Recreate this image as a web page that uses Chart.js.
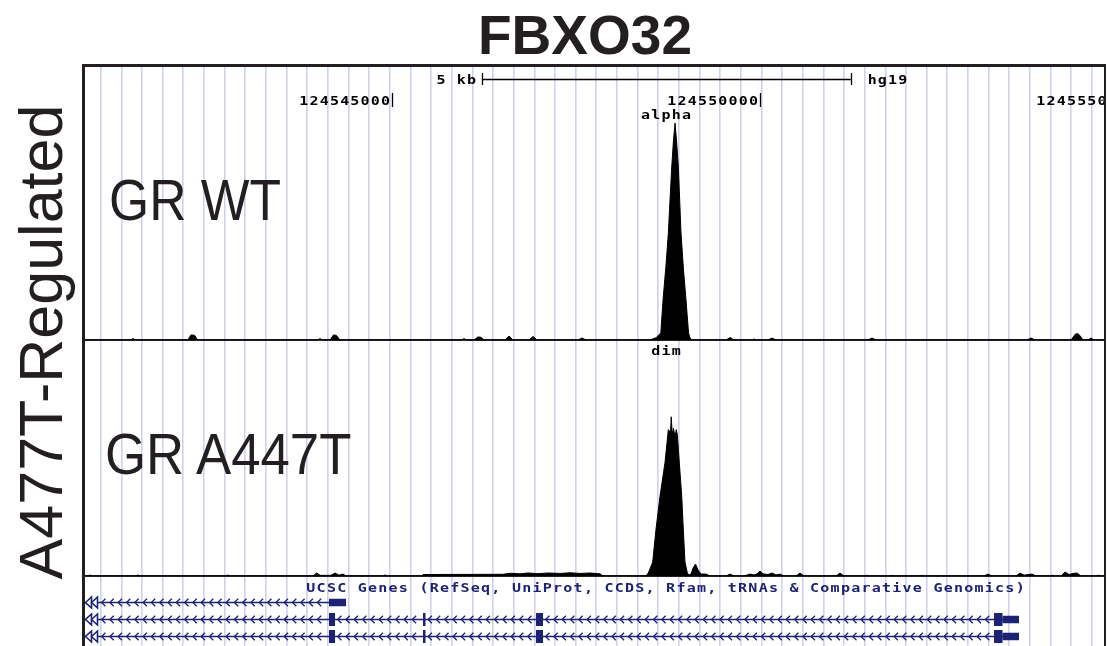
<!DOCTYPE html>
<html><head><meta charset="utf-8">
<script src="https://cdn.jsdelivr.net/npm/chart.js@4/dist/chart.umd.min.js"></script>
<style>
html,body{margin:0;padding:0;background:#fff;}
#wrap{position:relative;width:1108px;height:646px;overflow:hidden;background:#fff;}
#c{position:absolute;left:0;top:0;}
.lbl{position:absolute;font-family:"Liberation Sans",Arial,sans-serif;color:#231f20;white-space:nowrap;}
#title{left:385px;top:8px;width:400px;text-align:center;font-weight:bold;font-size:55px;line-height:55px;}
#ylab{left:-259px;top:312px;width:600px;height:60px;text-align:center;font-size:61px;line-height:60px;transform:rotate(-90deg);transform-origin:50% 50%;}
#wt{left:109px;top:171px;font-size:58px;line-height:58px;transform:scaleX(0.89);transform-origin:0 0;}
#mut{left:105px;top:425px;font-size:58px;line-height:58px;transform:scaleX(0.91);transform-origin:0 0;}
</style></head><body>
<div id="wrap">
<canvas id="c" width="1108" height="646"></canvas>
<div class="lbl" id="title">FBXO32</div>
<div class="lbl" id="ylab">A477T-Regulated</div>
<div class="lbl" id="wt">GR WT</div>
<div class="lbl" id="mut">GR A447T</div>
</div>
<script>
// ---- view / header ----
const viewStart = 124540839;
const viewEnd = 124554662;
const positionTicks = [124545000, 124550000, 124555000];
const scaleBarRange = [124546225, 124551225];
const scaleBarText = '5 kb';
const assemblyText = 'hg19';
const track1Name = 'alpha';
const track2Name = 'dim';
const geneTrackTitle = 'UCSC Genes (RefSeq, UniProt, CCDS, Rfam, tRNAs & Comparative Genomics)';
const guideStart = 124541052;
const guideStep = 280.1;

// ---- signal track 1 (GR WT, "alpha") ----
const alphaPos = [124540839,124541463,124541491,124541518,124542233,124542277,124542325,124542368,
 124544000,124544027,124544054,124544163,124544210,124544251,124544298,124545953,124545981,124546008,
 124546116,124546170,124546211,124546252,124546537,124546591,124546645,124546862,124546917,124546971,
 124547527,124547581,124547636,124548504,124548585,124548650,124548680,124548721,124548752,124548775,
 124548798,124548822,124548843,124548863,124548888,124548924,124548958,124548992,124549026,124549046,
 124549073,124549535,124549589,124549643,124549894,124549914,124549935,124550104,124550159,124550213,
 124551461,124551515,124551569,124553618,124553672,124553726,124554215,124554269,124554296,124554323,
 124554377,124554445,124554486,124554527,124554662];
const alphaVal = [0,0,0.7,0,0,2.3,2.1,0,
 0,0.7,0,0,2.3,2.0,0,0,0.7,0,
 0,1.4,1.2,0,0,1.8,0,0,1.6,0,
 0,0.9,0,0,1.0,3.2,18,33.8,48.2,63,
 77.9,90,97.7,90,77.9,48.2,31.5,18,3.2,0.9,
 0,0,1.1,0,0,0.5,0,0,0.9,0,
 0,0.9,0,0,0.9,0,0,2.5,2.9,2.5,
 0,0,0.9,0,0];

// ---- signal track 2 (GR A447T, "dim") ----
const dimPos = [124540839,124540880,124540907,124540934,124541531,124541558,124541586,124542752,124542779,124542806,
 124543932,124543982,124544027,124544176,124544231,124544285,124544339,124544380,124544882,124544909,124544936,
 124545411,124545424,124546510,124546605,124546740,124546849,124546984,124547120,124547283,124547418,124547554,
 124547690,124547825,124547866,124548449,124548481,124548540,124548585,124548639,124548707,124548752,124548782,
 124548791,124548806,124548822,124548843,124548860,124548874,124548901,124548934,124548955,124548978,124549010,
 124549033,124549060,124549087,124549121,124549155,124549195,124549263,124549318,124549535,124549589,124549643,
 124549779,124549860,124549914,124549955,124549996,124550037,124550104,124550159,124550213,124550267,124550321,
 124550484,124550538,124550593,124551027,124551081,124551135,124551434,124551447,124551461,124551773,124551786,
 124551800,124552179,124552193,124552206,124553034,124553089,124553143,124553468,124553523,124553577,124553685,
 124553740,124553943,124553957,124553970,124554079,124554133,124554187,124554242,124554296,124554350,124554567,
 124554581,124554594,124554662];
const dimVal = [0,0,0.5,0,0,0.5,0,0,0.5,0,
 0,1.4,0.3,0.3,1.4,0.4,0.9,0,0,0.5,0,
 0,0.7,0.8,1.3,1.0,1.4,1.1,1.4,1.2,1.5,1.2,
 1.4,1.0,0,0,1.4,6.5,21.9,37.2,53,68.4,67,
 74.4,66,69,65,68.4,66,53,37.2,21.9,6.5,1.4,
 0.5,0.9,3.7,5.6,2.8,0.9,0.9,0,0,0.9,0,
 0,0.9,0.5,1.0,2.3,1.0,0.7,1.4,0.5,0.9,0,
 0,1.4,0,0,1.4,0,0,0.5,0,0,0.5,
 0,0,0.5,0,0,0.9,0,0,1.4,0.4,0.9,
 0,0,0.5,0,0,1.9,0.7,1.2,1.4,0,0,
 0.5,0,0];

// ---- gene models (UCSC Genes) ----
const geneRowY = [1.5, 2.5, 3.5];
const txStart = [124508000, 124508000, 124508000];
const txEnd = [124544380, 124553509, 124553509];
const txCds = [
  [],
  [[124544149,124544231],[124545424,124545458],[124546957,124547052],[124553170,124553285]],
  [[124544149,124544231],[124545424,124545458],[124546957,124547052],[124553170,124553285]]
];
const txUtr = [
  [[124544149,124544380]],
  [[124553285,124553509]],
  [[124553285,124553509]]
];

const navy = 'rgb(28,34,116)';
const ink = '#000';

// wide bitmap-like label: font scaled horizontally, pitch in px
function mono(ctx, text, x, y, align, size, color, pitch, sx) {
  ctx.save();
  ctx.font = 'bold ' + size + 'px "DejaVu Sans Mono", monospace';
  ctx.fillStyle = color;
  ctx.textBaseline = 'alphabetic';
  ctx.textAlign = 'left';
  const cw = ctx.measureText('0').width;
  const spacing = pitch / sx - cw;
  if ('letterSpacing' in ctx) ctx.letterSpacing = spacing + 'px';
  const total = (text.length * pitch - spacing * sx);
  let left = x;
  if (align === 'right') left = x - total;
  else if (align === 'center') left = x - total / 2;
  ctx.translate(left, y);
  ctx.scale(sx, 1);
  ctx.fillText(text, 0, 0);
  ctx.restore();
}

const datasets = [];
datasets.push({
  label: track1Name, yAxisID: 'yT1',
  data: alphaPos.map((p, i) => ({x: p, y: alphaVal[i]})),
  borderColor: ink, backgroundColor: ink, borderWidth: 1, pointRadius: 0, fill: 'origin', tension: 0
});
datasets.push({
  label: track2Name, yAxisID: 'yT2',
  data: dimPos.map((p, i) => ({x: p, y: dimVal[i]})),
  borderColor: ink, backgroundColor: ink, borderWidth: 1, pointRadius: 0, fill: 'origin', tension: 0
});
geneRowY.forEach((row, r) => {
  datasets.push({yAxisID: 'yGene', data: [{x: txStart[r], y: row}, {x: txEnd[r], y: row}],
    borderColor: navy, borderWidth: 1.7, pointRadius: 0, fill: false});
  txCds[r].forEach(ex => datasets.push({yAxisID: 'yGene', data: [{x: ex[0], y: row}, {x: ex[1], y: row}],
    borderColor: navy, borderWidth: 13, borderCapStyle: 'butt', pointRadius: 0, fill: false}));
  txUtr[r].forEach(ex => datasets.push({yAxisID: 'yGene', data: [{x: ex[0], y: row}, {x: ex[1], y: row}],
    borderColor: navy, borderWidth: 7.5, borderCapStyle: 'butt', pointRadius: 0, fill: false}));
});

const ucsc = {
  id: 'ucsc',
  afterDatasetsDraw(chart) {
    const {ctx, chartArea: a, scales: s} = chart;
    const xs = s.x;
    ctx.save();
    ctx.beginPath(); ctx.rect(a.left, a.top, a.right - a.left, a.bottom - a.top); ctx.clip();
    const hTop = s.yHead.top;
    // scale bar
    const b1 = xs.getPixelForValue(scaleBarRange[0]), b2 = xs.getPixelForValue(scaleBarRange[1]);
    ctx.strokeStyle = ink; ctx.lineWidth = 1.3;
    ctx.beginPath();
    ctx.moveTo(b1, hTop + 12.5); ctx.lineTo(b2, hTop + 12.5);
    ctx.moveTo(Math.round(b1) + 0.5, hTop + 6); ctx.lineTo(Math.round(b1) + 0.5, hTop + 18);
    ctx.moveTo(Math.round(b2) + 0.5, hTop + 6); ctx.lineTo(Math.round(b2) + 0.5, hTop + 18);
    ctx.stroke();
    mono(ctx, scaleBarText, b1 - 6, hTop + 16.5, 'right', 12.5, ink, 10.2, 1.2);
    mono(ctx, assemblyText, b2 + 17, hTop + 16.5, 'left', 12.5, ink, 10.2, 1.2);
    // position ticks
    positionTicks.forEach(v => {
      const px = Math.round(xs.getPixelForValue(v)) + 0.5;
      ctx.beginPath(); ctx.moveTo(px, hTop + 26); ctx.lineTo(px, hTop + 40); ctx.stroke();
      mono(ctx, String(v), px - 2.5, hTop + 37.5, 'right', 12.5, ink, 10.2, 1.2);
    });
    // center labels
    mono(ctx, track1Name, 666, s.yT1.top + 0.5, 'center', 12.5, ink, 10.2, 1.2);
    mono(ctx, track2Name, 666, s.yGap.top + 14.5, 'center', 12.5, ink, 10.2, 1.2);
    mono(ctx, geneTrackTitle, 665.5, s.yGene.top + 15.5, 'center', 12, navy, 10.28, 1.25);
    // intron chevrons & left-edge continuation marks
    ctx.strokeStyle = navy; ctx.lineWidth = 1.3;
    geneRowY.forEach((row, r) => {
      const y = s.yGene.getPixelForValue(row);
      const exons = txCds[r].concat(txUtr[r]).sort((p, q) => p[0] - q[0]);
      let segStart = txStart[r];
      const segs = [];
      exons.forEach(ex => { if (ex[0] > segStart) segs.push([segStart, ex[0]]); segStart = Math.max(segStart, ex[1]); });
      if (txEnd[r] > segStart) segs.push([segStart, txEnd[r]]);
      segs.forEach(sg => {
        let p0 = Math.max(xs.getPixelForValue(sg[0]), a.left + 14);
        const p1 = Math.min(xs.getPixelForValue(sg[1]), a.right);
        ctx.beginPath();
        for (let px = p0 + 4; px < p1 - 3; px += 8.3) {
          ctx.moveTo(px + 2.4, y - 3.8); ctx.lineTo(px - 1.4, y); ctx.lineTo(px + 2.4, y + 3.8);
        }
        ctx.stroke();
      });
      if (txStart[r] < viewStart) {
        ctx.lineWidth = 1.6;
        [a.left + 0.5, a.left + 6.5].forEach(tx => {
          ctx.beginPath();
          ctx.moveTo(tx, y); ctx.lineTo(tx + 6, y - 5.5); ctx.lineTo(tx + 6, y + 5.5); ctx.closePath();
          ctx.fillStyle = '#fff'; ctx.fill(); ctx.stroke();
        });
        ctx.lineWidth = 1.3;
      }
    });
    ctx.restore();
  },
  afterDraw(chart) {
    const {ctx, chartArea: a} = chart;
    ctx.save();
    ctx.fillStyle = '#231f20';
    ctx.fillRect(a.left - 3, a.top - 3, a.right - a.left + 5, 3);
    ctx.fillRect(a.left - 3, a.top - 3, 3, a.bottom - a.top + 3);
    ctx.fillRect(a.right, a.top - 3, 2, a.bottom - a.top + 3);
    ctx.restore();
  }
};

const hiddenTicks = {display: false};
const baseY = (w, extra) => Object.assign({
  type: 'linear', position: 'right', stack: 'tracks', stackWeight: w,
  ticks: hiddenTicks, border: {display: false},
  grid: {display: false, drawTicks: false}
}, extra);
const zeroLine = {display: true, drawTicks: false, color: '#231f20', lineWidth: 2};
const onlyZero = axis => { axis.ticks = [{value: 0}]; };

new Chart(document.getElementById('c'), {
  type: 'line',
  data: {datasets},
  plugins: [ucsc],
  options: {
    responsive: false, animation: false, events: [],
    layout: {padding: {left: 85, right: 4, top: 67, bottom: 0}},
    plugins: {legend: {display: false}, tooltip: {enabled: false}, title: {display: false}},
    scales: {
      x: {
        type: 'linear', min: viewStart, max: viewEnd, position: 'bottom',
        ticks: hiddenTicks, border: {display: false},
        grid: {display: true, drawTicks: false, color: 'rgb(208,208,242)', lineWidth: 1.6},
        afterBuildTicks: axis => {
          const t = [];
          for (let v = guideStart; v < viewEnd; v += guideStep) t.push({value: v});
          axis.ticks = t;
        }
      },
      yHead: baseY(51, {min: 0, max: 1}),
      yT1: baseY(222, {min: 0, max: 100, grid: zeroLine, afterBuildTicks: onlyZero}),
      yGap: baseY(22, {min: 0, max: 1}),
      yT2: baseY(214, {min: 0, max: 100, grid: zeroLine, afterBuildTicks: onlyZero}),
      yGene: baseY(70, {min: -0.06, max: 4.06, reverse: true})
    }
  }
});
</script>
</body></html>
